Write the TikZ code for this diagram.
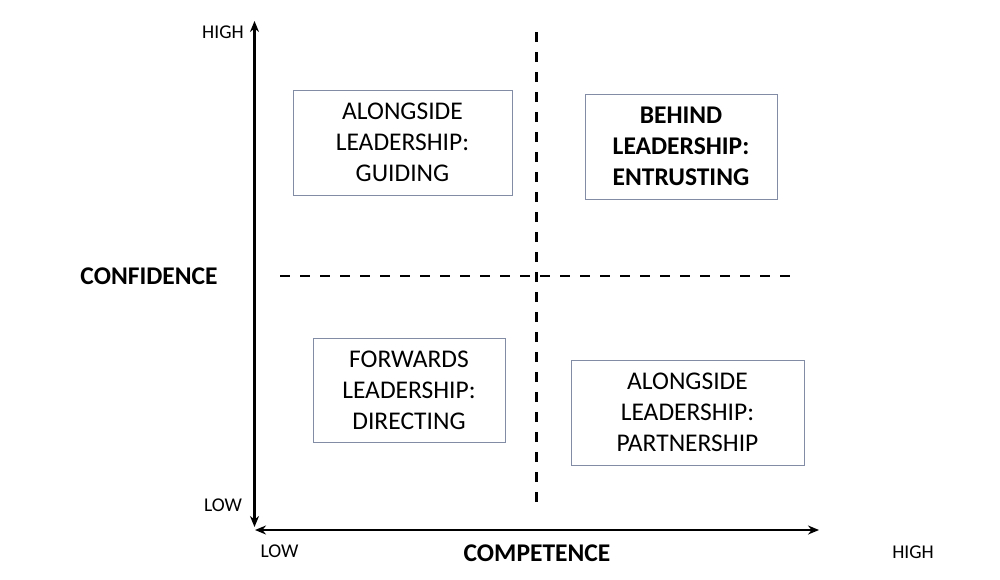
\documentclass[tikz,border=0pt]{standalone}
\usepackage{fontspec}
\setmainfont{Carlito}
\usetikzlibrary{arrows.meta}
\definecolor{boxline}{RGB}{130,140,165}
\tikzset{
  quad/.style={draw=boxline, line width=0.9pt, align=center, inner sep=0pt,
    font=\fontsize{25.5}{31}\selectfont},
  axis/.style={line width=2.6pt, {Stealth[length=11pt,width=9pt]}-{Stealth[length=11pt,width=9pt]}},
  divider/.style={line width=2.6pt, dash pattern=on 10pt off 10pt},
  small/.style={font=\fontsize{19.5}{23}\selectfont, inner sep=0pt},
  axistitle/.style={font=\fontsize{25.5}{30}\selectfont\bfseries, inner sep=0pt}
}
\begin{document}
\begin{tikzpicture}[x=1pt,y=-1pt]
\useasboundingbox (0,0) rectangle (1000,579);
% axes
\coordinate (ytop) at (254.5,21);
\coordinate (ybot) at (254.5,527);
\coordinate (xleft) at (255,530);
\coordinate (xright) at (819,530);
\draw[axis] (ybot) -- (ytop);
\draw[axis] (xleft) -- (xright);
% dividers
\coordinate (vtop) at (536.5,32);
\coordinate (vbot) at (536.5,506);
\coordinate (hleft) at (280,276);
\coordinate (hright) at (797,276);
\draw[divider] (vtop) -- (vbot);
\draw[divider] (hleft) -- (hright);
% boxes
\node[quad, minimum width=219pt, minimum height=105pt] (tl) at (402.5,142.5)
  {ALONGSIDE\\LEADERSHIP:\\GUIDING};
\node[quad, minimum width=192pt, minimum height=105pt, font=\fontsize{25.5}{31}\selectfont\bfseries] (tr) at (681,146.5)
  {BEHIND\\LEADERSHIP:\\ENTRUSTING};
\node[quad, minimum width=192pt, minimum height=104pt] (bl) at (409,390)
  {FORWARDS\\LEADERSHIP:\\DIRECTING};
\node[quad, minimum width=233pt, minimum height=105pt] (br) at (687.5,412.5)
  {ALONGSIDE\\LEADERSHIP:\\PARTNERSHIP};
% labels
\node[small] (yhigh) at (223,32) {HIGH};
\node[small] (ylow) at (223,505) {LOW};
\node[small] (xlow) at (279.5,551) {LOW};
\node[small] (xhigh) at (913,552) {HIGH};
\node[axistitle] (conf) at (149,276) {CONFIDENCE};
\node[axistitle] (comp) at (537,553) {COMPETENCE};
\end{tikzpicture}
\end{document}
